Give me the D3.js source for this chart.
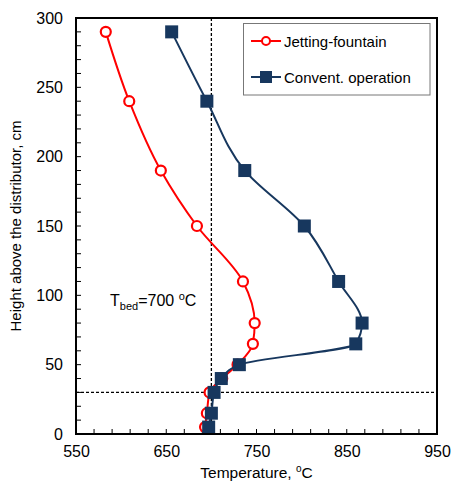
<!DOCTYPE html>
<html><head><meta charset="utf-8">
<script src="https://cdn.jsdelivr.net/npm/d3@7"></script>
<style>body{margin:0;background:#fff;} text{font-family:"Liberation Sans",Arial,sans-serif;}</style>
</head><body>
<svg id="c" width="452" height="483"></svg>
<script>
const heights = [290, 240, 190, 150, 110, 80, 65, 50, 40, 30, 15, 5];
const jettingTemps = [583, 609, 644, 684, 735, 748, 746, 729, 712, 698, 695, 693];
const conventTemps = [656, 695, 737, 803, 841, 867, 860, 731, 711, 703, 700, 697];
const xTicks = [550, 650, 750, 850, 950];
const yTicks = [0, 50, 100, 150, 200, 250, 300];
const seriesNames = ["Jetting-fountain", "Convent. operation"];
const bedTemp = 700;
const refHeight = 30;

const svg = d3.select("#c");
const L = 76, R = 437, T = 18, B = 434;
const x = d3.scaleLinear().domain([550, 950]).range([L, R]);
const y = d3.scaleLinear().domain([0, 300]).range([B, T]);

// minor ticks (inward)
const xMinor = d3.range(550, 951, 20);
const yMinor = d3.range(0, 301, 10);
svg.append("g").selectAll("line").data(xMinor).join("line")
  .attr("x1", d => x(d)).attr("x2", d => x(d)).attr("y1", B).attr("y2", B - 5)
  .attr("stroke", "#000").attr("stroke-width", 1);
svg.append("g").selectAll("line").data(yMinor).join("line")
  .attr("y1", d => y(d)).attr("y2", d => y(d)).attr("x1", L).attr("x2", L + 5)
  .attr("stroke", "#000").attr("stroke-width", 1);

// axes labels via d3 axes
const xAxis = svg.append("g").attr("transform", `translate(0,${B})`)
  .call(d3.axisBottom(x).tickValues(xTicks).tickSize(0).tickPadding(12));
const yAxis = svg.append("g").attr("transform", `translate(${L},0)`)
  .call(d3.axisLeft(y).tickValues(yTicks).tickSize(0).tickPadding(13));
[xAxis, yAxis].forEach(a => {
  a.select(".domain").remove();
  a.selectAll("text").attr("font-size", 16).attr("fill", "#000")
    .attr("font-family", "Liberation Sans, Arial, sans-serif");
});

// reference lines
svg.append("line").attr("x1", x(bedTemp)).attr("x2", x(bedTemp)).attr("y1", T).attr("y2", B)
  .attr("stroke", "#000").attr("stroke-width", 1.3).attr("stroke-dasharray", "3,2");
svg.append("line").attr("x1", L).attr("x2", R).attr("y1", y(refHeight)).attr("y2", y(refHeight))
  .attr("stroke", "#000").attr("stroke-width", 1.3).attr("stroke-dasharray", "3,2");

// lines
const line = d3.line().x(d => x(d[0])).y(d => y(d[1])).curve(d3.curveMonotoneY);
const jetData = jettingTemps.map((t, i) => [t, heights[i]]);
const conData = conventTemps.map((t, i) => [t, heights[i]]);
const red = "#ff0000", navy = "#17375e";

svg.append("path").datum(jetData).attr("d", line).attr("fill", "none").attr("stroke", red).attr("stroke-width", 2);
svg.append("g").selectAll("circle").data(jetData).join("circle")
  .attr("cx", d => x(d[0])).attr("cy", d => y(d[1])).attr("r", 5)
  .attr("fill", "#fff").attr("stroke", red).attr("stroke-width", 2.2);

svg.append("path").datum(conData).attr("d", line).attr("fill", "none").attr("stroke", navy).attr("stroke-width", 2);
svg.append("g").selectAll("rect").data(conData).join("rect")
  .attr("x", d => x(d[0]) - 6.5).attr("y", d => y(d[1]) - 6.5).attr("width", 13).attr("height", 13)
  .attr("fill", navy);

// frame
svg.append("rect").attr("x", L).attr("y", T).attr("width", R - L).attr("height", B - T)
  .attr("fill", "none").attr("stroke", "#000").attr("stroke-width", 2);

// legend
const lg = svg.append("g");
lg.append("rect").attr("x", 243.5).attr("y", 23.5).attr("width", 186.5).attr("height", 71.5)
  .attr("fill", "#fff").attr("stroke", "#777").attr("stroke-width", 1);
const rows = [41, 77];
lg.append("line").attr("x1", 251).attr("x2", 281).attr("y1", rows[0]).attr("y2", rows[0]).attr("stroke", red).attr("stroke-width", 2);
lg.append("circle").attr("cx", 266).attr("cy", rows[0]).attr("r", 4).attr("fill", "#fff").attr("stroke", red).attr("stroke-width", 2);
lg.append("line").attr("x1", 251).attr("x2", 281).attr("y1", rows[1]).attr("y2", rows[1]).attr("stroke", navy).attr("stroke-width", 2);
lg.append("rect").attr("x", 260).attr("y", rows[1] - 6).attr("width", 12).attr("height", 12).attr("fill", navy);
seriesNames.forEach((n, i) => {
  lg.append("text").attr("x", 284).attr("y", rows[i] + 5.5).attr("font-size", 15).attr("fill", "#000").text(n);
});

// annotation
const ann = svg.append("text").attr("x", 110).attr("y", 306).attr("font-size", 16).attr("fill", "#000");
ann.append("tspan").text("T");
ann.append("tspan").attr("font-size", 11).attr("dy", 4).text("bed");
ann.append("tspan").attr("dy", -4).text("=700 ");
ann.append("tspan").attr("font-size", 11).attr("dy", -6).text("o");
ann.append("tspan").attr("dy", 6).text("C");

// x title
const xt = svg.append("text").attr("x", (L + R) / 2).attr("y", 478).attr("text-anchor", "middle")
  .attr("font-size", 15.5).attr("fill", "#000");
xt.append("tspan").text("Temperature, ");
xt.append("tspan").attr("font-size", 10).attr("dy", -6).text("o");
xt.append("tspan").attr("dy", 6).text("C");

// y title
svg.append("text").attr("transform", `translate(21,${(T + B) / 2}) rotate(-90)`)
  .attr("text-anchor", "middle").attr("font-size", 15).attr("fill", "#000")
  .text("Height above the distributor, cm");
</script>
</body></html>
